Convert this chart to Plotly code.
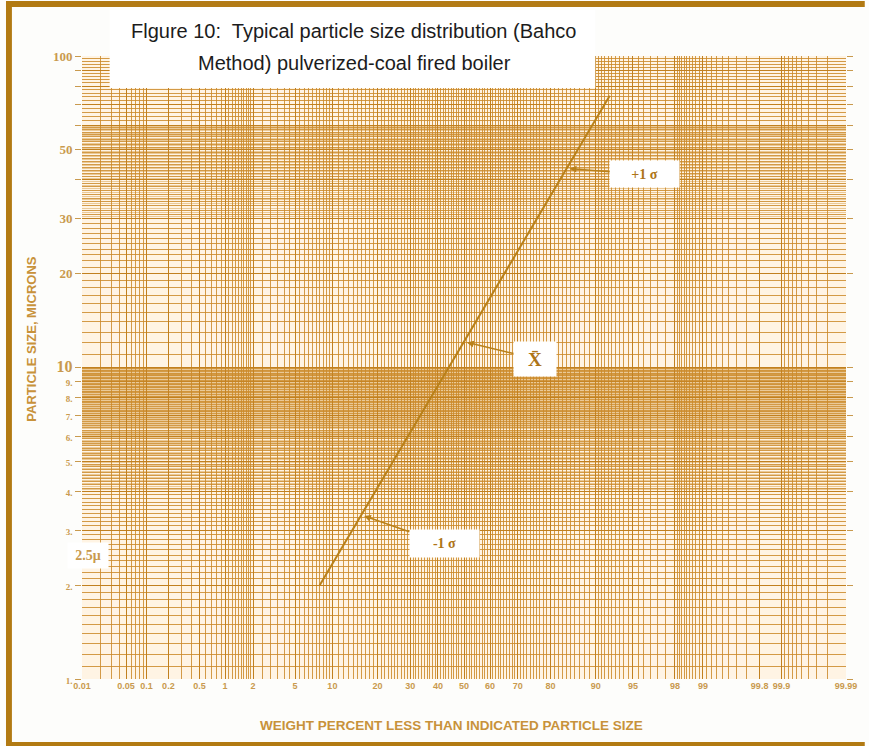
import numpy as np
import plotly.graph_objects as go
from statistics import NormalDist

_nd = NormalDist()


def zpos(pct):
    """Normal-probability position (in sigmas) for a cumulative percentage."""
    return _nd.inv_cdf(pct / 100.0)


# ---------------- data ----------------
# straight line on the log-probability paper
line_pct = [8.0, 92.2]          # weight percent less than size
line_um = [2.0, 74.5]           # particle size, microns

# marked points on the distribution
sigma_labels = ["-1 σ", "X̄", "+1 σ"]
sigma_pct = [15.87, 50.0, 84.13]

# x-axis (probability) tick labels
x_tick_pct = [0.01, 0.05, 0.1, 0.2, 0.5, 1, 2, 5, 10, 20, 30, 40, 50,
              60, 70, 80, 90, 95, 98, 99, 99.8, 99.9, 99.99]
x_tick_text = ["0.01", "0.05", "0.1", "0.2", "0.5", "1", "2", "5", "10", "20",
               "30", "40", "50", "60", "70", "80", "90", "95", "98", "99",
               "99.8", "99.9", "99.99"]

# y-axis (log) tick labels
y_tick_vals = [1, 2, 3, 4, 5, 6, 7, 8, 9, 10, 20, 30, 40, 50, 60, 70, 80, 90, 100]
y_tick_text = ["1.", "2.", "3.", "4.", "5.", "6.", "7.", "8.", "9.", "10",
               "20", "30", "", "50", "", "", "", "", "100"]

# ---------------- grid of the printed paper ----------------
lower = (list(np.arange(0.01, 0.1001, 0.01)) + list(np.arange(0.1, 1.0001, 0.1)) +
         list(np.arange(1.0, 2.0001, 0.1)) + list(np.arange(2.0, 10.0001, 0.5)) +
         list(np.arange(10, 50.0001, 1.0)))
lower = sorted(set(round(v, 4) for v in lower))
minor_x_pct = sorted(set(lower + [round(100 - v, 4) for v in lower]))
minor_x = [zpos(p) for p in minor_x_pct]

minor_y = (list(np.arange(1.0, 3.0001, 0.1)) + list(np.arange(3.0, 10.0001, 0.1)) +
           list(np.arange(10, 30.0001, 1.0)) + list(np.arange(30, 60.0001, 1.0)) +
           list(np.arange(60, 100.0001, 2.0)))
minor_y = sorted(set(round(v, 4) for v in minor_y))

# faint half-step rulings in the denser bands of the paper
fine_y = (list(np.arange(4.05, 6.0, 0.1)) + list(np.arange(6.05, 10.0, 0.1)) +
          list(np.arange(30.5, 60.0, 1.0)))
fine_y = sorted(set(round(v, 4) for v in fine_y))

# ---------------- styling ----------------
GRID = "rgba(203,138,42,0.85)"
GRID_MAJ = "rgba(192,126,30,0.95)"
GRID_FINE = "rgba(205,140,45,0.42)"
TXT = "#C99A4E"
TXT2 = "#C8923A"
MARK = "#AE7518"
BORDER = "#B27A12"

zmin, zmax = zpos(0.01), zpos(99.99)

fig = go.Figure()
fig.add_trace(go.Scatter(
    x=[zpos(p) for p in line_pct], y=line_um, mode="lines",
    line=dict(color="#B98019", width=2), hoverinfo="skip", showlegend=False))
# carrier for the fine-ruling axis (no visible marks)
fig.add_trace(go.Scatter(x=[], y=[], yaxis="y2", mode="lines",
                         hoverinfo="skip", showlegend=False))


def ylab(t):
    if t.endswith("."):
        return "<span style='font-size:9px'>" + t + "</span>"
    if t == "10":
        return "<span style='font-size:16px'>" + t + "</span>"
    return t


fig.update_layout(
    xaxis=dict(
        range=[zmin, zmax], showline=False, zeroline=False,
        tickmode="array", tickvals=[zpos(p) for p in x_tick_pct], ticktext=x_tick_text,
        ticks="", tickfont=dict(family="Liberation Sans", size=9, color=TXT, weight="bold"),
        showgrid=True, gridcolor=GRID_MAJ, gridwidth=1.2,
        minor=dict(tickmode="array", tickvals=minor_x, showgrid=True,
                   gridcolor=GRID, gridwidth=1.1, ticks=""),
    ),
    yaxis=dict(
        type="log", range=[0, 2], showline=False, zeroline=False,
        tickmode="array", tickvals=y_tick_vals, ticktext=[ylab(t) for t in y_tick_text],
        ticks="outside", ticklen=6, tickcolor=TXT, tickwidth=1, mirror="ticks",
        tickfont=dict(family="Liberation Serif", size=13, color=TXT, weight="bold"),
        showgrid=True, gridcolor=GRID_MAJ, gridwidth=1.2,
        minor=dict(tickmode="array", tickvals=minor_y, showgrid=True,
                   gridcolor=GRID, gridwidth=1.1, ticks=""),
    ),
    yaxis2=dict(
        type="log", range=[0, 2], overlaying="y", side="left", showline=False,
        zeroline=False, tickmode="array", tickvals=fine_y, showticklabels=False,
        ticks="", showgrid=True, gridcolor=GRID_FINE, gridwidth=1,
    ),
)

# ---------------- decorations ----------------
W, H = 869, 746
L, R, T, B = 82, 13, 56, 67
pw, ph = W - L - R, H - T - B


def px(x):
    return (x - L) / pw


def py(y):
    return (H - B - y) / ph


shapes = [
    # title white box
    dict(type="rect", xref="paper", yref="paper", x0=px(110), x1=px(602),
         y0=py(88), y1=py(10), fillcolor="white", line=dict(width=0), layer="above"),
    # frame (left, top, bottom)
    dict(type="rect", xref="paper", yref="paper", x0=px(5), x1=px(11),
         y0=py(748), y1=py(1), fillcolor=BORDER, line=dict(width=0), layer="above"),
    dict(type="rect", xref="paper", yref="paper", x0=px(5), x1=px(875),
         y0=py(7), y1=py(1), fillcolor=BORDER, line=dict(width=0), layer="above"),
    dict(type="rect", xref="paper", yref="paper", x0=px(5), x1=px(875),
         y0=py(748), y1=py(742), fillcolor=BORDER, line=dict(width=0), layer="above"),
]

C = dict(xanchor="center", yanchor="middle", showarrow=False)
annotations = [
    dict(text="Flgure 10:  Typical particle size distribution (Bahco", xref="paper",
         yref="paper", x=px(357), y=py(31),
         font=dict(family="Liberation Sans", size=20, color="#1c1c1c"), **C),
    dict(text="Method) pulverized-coal fired boiler", xref="paper",
         yref="paper", x=px(358), y=py(63),
         font=dict(family="Liberation Sans", size=20, color="#1c1c1c"), **C),
    dict(text="WEIGHT PERCENT LESS THAN INDICATED PARTICLE SIZE", xref="paper",
         yref="paper", x=px(456), y=py(725),
         font=dict(family="Liberation Sans", size=13.5, color=TXT2, weight="bold"), **C),
    dict(text="PARTICLE SIZE, MICRONS", xref="paper", yref="paper",
         x=px(31), y=py(339), textangle=-90,
         font=dict(family="Liberation Sans", size=13, color=TXT2, weight="bold"), **C),
    dict(text="2.5μ", xref="paper", yref="y", x=px(88), y=np.log10(2.5),
         bgcolor="white", width=38, height=23,
         font=dict(family="Liberation Serif", size=14, color=TXT, weight="bold"), **C),
]

# sigma markers: tips on the line, computed from the line data
lz = [zpos(p) for p in line_pct]
ll = [np.log10(v) for v in line_um]
offsets = {"-1 σ": (83, 29, 67, 25, 14), "X̄": (71, 17, 40, 32, 19),
           "+1 σ": (78, 6, 67, 24, 14)}
for lab, p in zip(sigma_labels, sigma_pct):
    zz = zpos(p)
    yl = np.interp(zz, lz, ll)
    ax, ay, w, h, fs = offsets[lab]
    annotations.append(dict(
        x=zz, y=yl, xref="x", yref="y", text=lab, showarrow=True,
        ax=ax, ay=ay, arrowhead=2, arrowsize=0.9, arrowwidth=1.5,
        arrowcolor="#B98019", standoff=3, bgcolor="white", width=w, height=h,
        font=dict(family="Liberation Serif", size=fs, color=MARK, weight="bold")))

fig.update_layout(
    width=W, height=H, margin=dict(l=L, r=R, t=T, b=B),
    paper_bgcolor="#FDFDFB", plot_bgcolor="#FFF4E4",
    shapes=shapes, annotations=annotations, showlegend=False,
)

fig.write_html("out.html", config={"displayModeBar": False},
               post_script="document.body.style.margin='0';document.body.style.overflow='hidden';")
